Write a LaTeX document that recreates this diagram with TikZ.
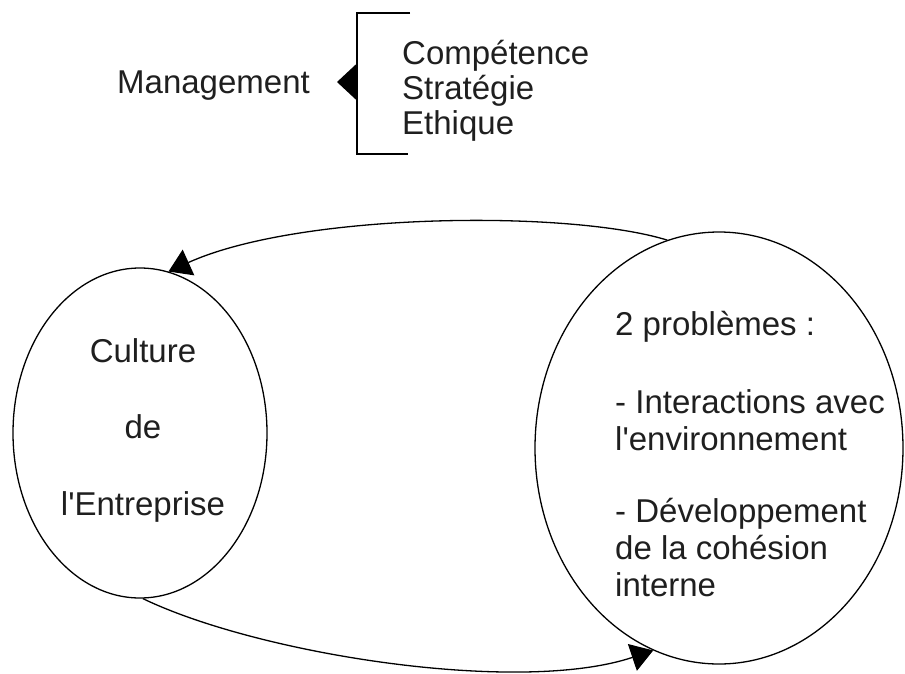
\documentclass[tikz,border=0pt]{standalone}
\usepackage{fontspec}
\setmainfont{Liberation Sans}
\usetikzlibrary{shapes.geometric,arrows.meta}
\begin{document}
\begin{tikzpicture}[x=1pt,y=-1pt,
  txt/.style={inner sep=0pt, font=\fontsize{33}{35}\selectfont, text=black!88},
  bubble/.style={draw, ellipse, line width=1.3pt, inner sep=0pt},
  loop/.style={line width=1.3pt, -{Triangle[length=22pt,width=28pt]}}]
\useasboundingbox (0,0) rectangle (905,673);
% top part
\node[txt, anchor=base west] (mgt) at (117,93) {Management};
\node[txt, anchor=base west, align=left] (list) at (402,134)
  {Compétence\\Stratégie\\Ethique};
\coordinate (bt) at (410,13);
\coordinate (bb) at (408,154);
\coordinate (bm) at (357,82);
\coordinate (mtip) at (337,82);
\draw[line width=1.3pt] (bt) -| (bb -| bm) -- (bb);
\draw[line width=1.3pt, -{Triangle[length=20pt,width=37pt]}] (bm) -- (mtip);
% ellipses
\node[bubble, minimum width=254pt, minimum height=330pt] (L) at (140,433) {};
\node[bubble, minimum width=368pt, minimum height=432pt] (R) at (719,448) {};
\node[txt, anchor=base, align=center, font=\fontsize{33}{76.5}\selectfont] (ltext) at (143,515)
  {Culture\\de\\l\textquotesingle Entreprise};
\node[txt, anchor=base west, align=left, font=\fontsize{33}{37}\selectfont] (rtext) at (615,596)
  {2 problèmes :\\[41pt]- Interactions avec\\l\textquotesingle environnement\\[35pt]- Développement\\de la cohésion\\interne};
% loops
\draw[loop] (R.104) .. controls (570,210) and (300,212) .. (L.80);
\draw[loop] (L.-89) .. controls (260,655) and (520,695) .. (R.-108);
\end{tikzpicture}
\end{document}
